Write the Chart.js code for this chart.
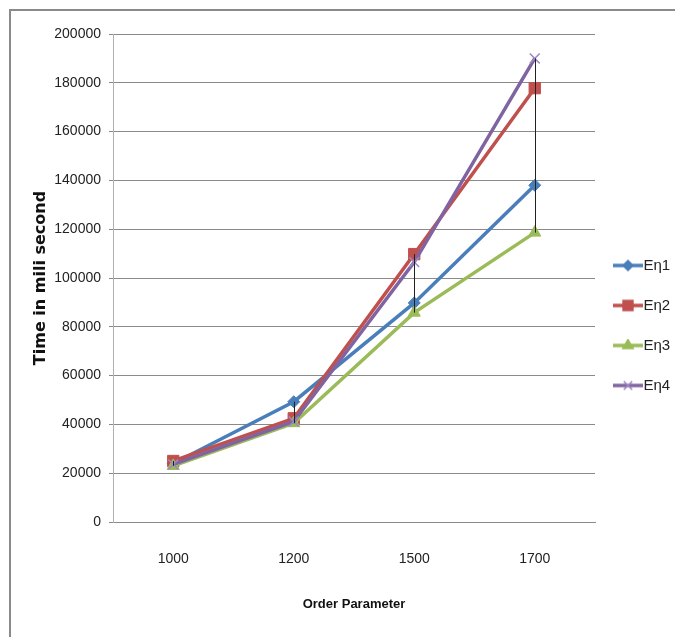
<!DOCTYPE html>
<html lang="en">
<head>
    <meta charset="UTF-8">
    <title>Order Parameter</title>
    <script src="https://cdn.jsdelivr.net/npm/chart.js"></script>
    <style>
        body {
            margin: 0;
            background: #fff;
        }
        .wrap {
            position: relative;
            width: 675px;
            height: 637px;
        }
        .frame {
            position: absolute;
            left: 9px;
            top: 9px;
            right: 0;
            bottom: 0;
            border-top: 2px solid #8a8a8a;
            border-left: 2px solid #8a8a8a;
            pointer-events: none;
        }
    </style>
</head>
<body>
    <div class="wrap">
        <canvas id="chart"></canvas>
        <div class="frame"></div>
    </div>

    <script>
        // values
        const categories = ['1000', '1200', '1500', '1700'];
        const en1 = [24000, 49300, 89800, 138000];
        const en2 = [25000, 42500, 109800, 177800];
        const en3 = [23000, 40500, 85800, 118600];
        const en4 = [23600, 41200, 106500, 190000];
        const seriesNames = ['Eη1', 'Eη2', 'Eη3', 'Eη4'];

        const sans = "'Liberation Sans Narrow', 'Liberation Sans', sans-serif";

        const styles = [
            { color: '#4a7ebb', point: 'rectRot', radius: 6, lineColor: '#4a7ebb' },
            { color: '#c0504d', point: 'rect', radius: 8, lineColor: '#c0504d' },
            { color: '#9bbb59', point: 'triangle', radius: 7, lineColor: '#9bbb59' },
            { color: '#9c88c4', point: 'crossRot', radius: 7, lineColor: '#8064a2' }
        ];

        // small line + marker image for legend entries
        function legendIcon(s) {
            const c = document.createElement('canvas');
            c.width = 30;
            c.height = 14;
            const g = c.getContext('2d');
            g.strokeStyle = s.lineColor;
            g.lineWidth = 3.5;
            g.beginPath();
            g.moveTo(0, 7);
            g.lineTo(30, 7);
            g.stroke();
            g.fillStyle = s.color;
            g.strokeStyle = s.color;
            g.lineWidth = 1.5;
            Chart.helpers.drawPoint(g, { pointStyle: s.point, radius: s.radius - 1, borderWidth: 1.5 }, 15, 7);
            if (s.point !== 'crossRot') g.fill();
            return c;
        }

        // thin black line from highest to lowest value at every category
        const highLow = {
            id: 'highLow',
            afterDatasetsDraw(chart) {
                const x = chart.scales.x, y = chart.scales.y;
                const ctx = chart.ctx;
                ctx.save();
                ctx.strokeStyle = '#222';
                ctx.lineWidth = 1;
                categories.forEach((c, i) => {
                    const vals = [en1[i], en2[i], en3[i], en4[i]];
                    const px = Math.round(x.getPixelForValue(i)) + 0.5;
                    ctx.beginPath();
                    ctx.moveTo(px, y.getPixelForValue(Math.max(...vals)));
                    ctx.lineTo(px, y.getPixelForValue(Math.min(...vals)));
                    ctx.stroke();
                });
                ctx.restore();
            }
        };

        const allData = [en1, en2, en3, en4];
        const datasets = allData.map((d, i) => ({
            label: seriesNames[i],
            data: d,
            borderColor: styles[i].lineColor,
            backgroundColor: styles[i].color,
            pointBorderColor: styles[i].color,
            pointBackgroundColor: styles[i].color,
            borderWidth: 3.5,
            pointStyle: styles[i].point,
            pointRadius: styles[i].radius,
            pointBorderWidth: i === 3 ? 1.5 : 1,
            tension: 0,
            order: 4 - i
        }));

        new Chart(document.getElementById('chart'), {
            type: 'line',
            data: { labels: categories, datasets: datasets },
            plugins: [highLow],
            options: {
                responsive: true,
                maintainAspectRatio: false,
                animation: false,
                layout: { padding: { top: 14, left: 0, right: 0, bottom: 0 } },
                plugins: {
                    tooltip: { enabled: false },
                    legend: {
                        position: 'right',
                        maxWidth: 80,
                        labels: {
                            usePointStyle: true,
                            pointStyleWidth: 16,
                            padding: 25,
                            color: '#222',
                            font: { family: sans, size: 15 },
                            generateLabels: (chart) => seriesNames.map((n, i) => ({
                                text: n,
                                pointStyle: legendIcon(styles[i]),
                                fillStyle: styles[i].color,
                                strokeStyle: styles[i].color,
                                lineWidth: 0,
                                datasetIndex: i,
                                fontColor: '#222'
                            }))
                        }
                    }
                },
                scales: {
                    x: {
                        offset: true,
                        afterFit: (s) => { s.height = 115; },
                        grid: { display: false, drawTicks: false },
                        border: { color: '#8a8a8a', width: 1 },
                        ticks: { padding: 29, color: '#222', font: { family: sans, size: 14 } },
                        title: {
                            display: true,
                            text: 'Order Parameter',
                            color: '#111',
                            font: { family: sans, size: 13, weight: 'bold' },
                            padding: { top: 0, bottom: 25 }
                        }
                    },
                    y: {
                        min: 0,
                        max: 200000,
                        afterFit: (s) => { s.width = 113; s.paddingTop = 34; },
                        grid: { color: '#8a8a8a', tickLength: 4 },
                        border: { color: '#b0b0b0', width: 1 },
                        ticks: {
                            stepSize: 20000,
                            padding: 8,
                            color: '#222',
                            font: { family: sans, size: 14 },
                            callback: (v) => String(v)
                        },
                        title: {
                            display: true,
                            text: 'Time in mili second',
                            color: '#111',
                            font: { family: "'DejaVu Sans', sans-serif", size: 16, weight: 'bold' },
                            padding: { top: 31, bottom: 0 }
                        }
                    }
                }
            }
        });
    </script>
</body>
</html>
